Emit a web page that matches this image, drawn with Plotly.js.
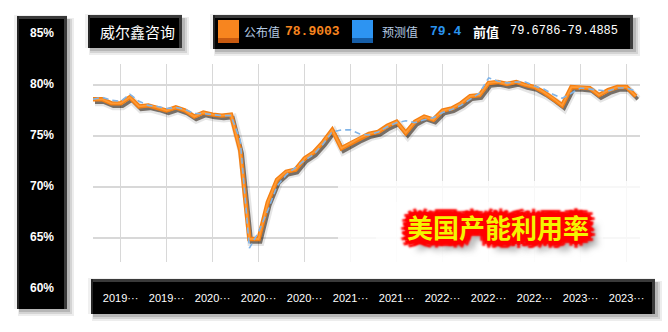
<!DOCTYPE html>
<html>
<head>
<meta charset="utf-8">
<script src="https://cdn.plot.ly/plotly-3.0.1.min.js"></script>
<style>
html,body{margin:0;padding:0;background:#ffffff;}
#chart{width:668px;height:332px;}
</style>
</head>
<body>
<div id="chart"></div>
<script>
// ---------------- data ----------------
// release months of the monthly US capacity utilisation readings
const releaseMonths = [
  "2018-12",
  "2019-01","2019-02","2019-03","2019-04","2019-05","2019-06","2019-07","2019-08","2019-09","2019-10","2019-11","2019-12",
  "2020-01","2020-02","2020-03","2020-04","2020-05","2020-06","2020-07","2020-08","2020-09","2020-10","2020-11","2020-12",
  "2021-01","2021-02","2021-03","2021-04","2021-05","2021-06","2021-07","2021-08","2021-09","2021-10","2021-11","2021-12",
  "2022-01","2022-02","2022-03","2022-04","2022-05","2022-06","2022-07","2022-08","2022-09","2022-10","2022-11","2022-12",
  "2023-01","2023-02","2023-03","2023-04","2023-05","2023-06","2023-07","2023-08","2023-09","2023-10","2023-11"
];
// 公布值 (actual)
const actualValues = [
  78.6, 78.6, 78.2, 78.2, 78.8, 77.9, 78.0, 77.8, 77.5, 77.8,
  77.5, 76.9, 77.3, 77.1, 77.0, 77.1, 73.6, 64.9, 64.9, 68.5,
  70.7, 71.5, 71.7, 72.8, 73.4, 74.4, 75.6, 73.8, 74.3, 74.8,
  75.2, 75.4, 76.0, 76.4, 75.3, 76.4, 76.9, 76.6, 77.5, 77.7,
  78.2, 78.9, 79.0, 80.2, 80.3, 80.1, 80.3, 80.0, 79.8, 79.3,
  78.7, 78.0, 79.8, 79.8, 79.7, 79.0, 79.5, 79.8, 79.8, 78.9
];
// 预测值 (forecast)
const forecastValues = [
  78.6, 78.8, 78.5, 78.4, 79.1, 78.4, 78.0, 77.9, 77.7, 77.8,
  77.6, 77.2, 77.2, 77.1, 77.0, 77.0, 74.6, 64.0, 65.6, 67.7,
  70.1, 71.2, 71.9, 72.6, 73.2, 74.2, 75.4, 75.6, 75.6, 75.2,
  75.1, 75.4, 75.9, 76.3, 76.5, 76.3, 76.6, 76.8, 77.3, 77.6,
  78.0, 78.6, 79.2, 80.7, 80.4, 80.2, 80.3, 80.3, 79.9, 79.6,
  79.1, 78.7, 79.2, 79.7, 79.6, 79.5, 79.4, 79.7, 79.7, 79.4
];
const tickIndices = [3, 8, 13, 18, 23, 28, 33, 38, 43, 48, 53, 58];
const yLabelValues = [85, 80, 75, 70, 65, 60];
const yGridValues = [65, 70, 75, 80];
const titleText = "威尔鑫咨询";
const chartLabel = "美国产能利用率";
const legendActualName = "公布值";
const legendActualValue = "78.9003";
const legendForecastName = "预测值";
const legendForecastValue = "79.4";
const previousName = "前值";
const previousValue = "79.6786-79.4885";

// ---------------- geometry (pixels) ----------------
const W = 668, H = 332;
const plotL = 93, plotR = 640.4, plotT = 64, plotB = 262;
const y85px = 33, y60px = 288;
const pxPerPct = 10.2;
const yTop = 80 + (85 - plotT) / pxPerPct;
const yBot = 80 - (plotB - 85) / pxPerPct;
const xRange = [0, 59.5];
const pxPerCat = (plotR - plotL) / (xRange[1] - xRange[0]);
const sdx = 2, sdy = 3; // shadow offset in px

const px = x => x / W;
const py = y => 1 - y / H;

const tickVals = tickIndices.map(i => releaseMonths[i]);
const tickText = tickVals.map(s => s.slice(0, 4) + "···");

// ---------------- traces ----------------
const traces = [
  { // host trace for main axes (invisible)
    x: releaseMonths, y: actualValues, type: 'scatter', mode: 'lines',
    line: {color: 'rgba(0,0,0,0)', width: 0}, hoverinfo: 'skip', showlegend: false,
    xaxis: 'x', yaxis: 'y'
  },
  { // soft wide shadow
    x: releaseMonths, y: actualValues, type: 'scatter', mode: 'lines',
    line: {color: 'rgba(0,0,0,0.10)', width: 8},
    hoverinfo: 'skip', showlegend: false, xaxis: 'x2', yaxis: 'y2'
  },
  { // core shadow
    x: releaseMonths, y: actualValues, type: 'scatter', mode: 'lines',
    line: {color: 'rgba(30,15,0,0.55)', width: 3.5},
    hoverinfo: 'skip', showlegend: false, xaxis: 'x2', yaxis: 'y2'
  },
  { // orange actual line
    x: releaseMonths, y: actualValues, type: 'scatter', mode: 'lines',
    line: {color: '#f47f12', width: 4.4},
    name: legendActualName, showlegend: false, xaxis: 'x3', yaxis: 'y3'
  },
  { // highlight
    x: releaseMonths, y: actualValues, type: 'scatter', mode: 'lines',
    line: {color: '#ff9a35', width: 1.8},
    hoverinfo: 'skip', showlegend: false, xaxis: 'x3', yaxis: 'y3'
  },
  { // forecast dashed
    x: releaseMonths, y: forecastValues, type: 'scatter', mode: 'lines',
    line: {color: '#80b4e8', width: 1.6, dash: '6px,4px'},
    name: legendForecastName, showlegend: false, xaxis: 'x3', yaxis: 'y3'
  }
];

// ---------------- shapes ----------------
const shapes = [];
function rect(x0, y0, x1, y1, fill, line, layer, lw) {
  shapes.push({type: 'rect', xref: 'paper', yref: 'paper',
    x0: px(x0), x1: px(x1), y0: py(y1), y1: py(y0),
    fillcolor: fill, line: {color: line || 'rgba(0,0,0,0)', width: lw || 0},
    layer: layer || 'below'});
}
function shadowBox(x0, y0, x1, y1) {
  rect(x0 + 1, y0 + 2, x1 + 7, y1 + 7, 'rgba(0,0,0,0.07)');
  rect(x0 + 2, y0 + 3, x1 + 5, y1 + 5, 'rgba(0,0,0,0.10)');
  rect(x0 + 2, y0 + 3, x1 + 3, y1 + 3, 'rgba(0,0,0,0.14)');
  rect(x0 - 3, y0 - 1, x1, y1, 'rgba(0,0,0,0.06)');
}
function blackBox(x0, y0, x1, y1) {
  shadowBox(x0, y0, x1, y1);
  rect(x0, y0, x1, y1, '#000000');
  rect(x0, y0, x1, y0 + 3, '#3a3a3a');
  rect(x1 - 3, y0, x1, y1, '#3a3a3a');
  rect(x0, y0, x0 + 2, y1, '#262626');
}
// left y-label panel
blackBox(17, 16, 67, 309);
// title box
blackBox(88, 15, 182, 48);
// legend box
blackBox(213, 15, 633, 49);
// x-label bar
blackBox(91, 279, 655, 314);
// legend squares
rect(218, 20, 239, 43, '#f7851f', null, 'above');
rect(218, 38, 239, 43, '#c85a10', null, 'above');
rect(352, 20, 373, 43, '#2d94f2', null, 'above');
rect(352, 38, 373, 43, '#165ea8', null, 'above');
// white wash over lower-right grid region
rect(338, 181, 642, 263, 'rgba(255,255,255,0.78)', null, 'above');
rect(376, 202, 603, 262, 'rgba(255,255,255,0.6)', null, 'above');

// ---------------- annotations ----------------
const annotations = [];
const baseFont = 'Liberation Sans, Arial, sans-serif';
const cjkFont = 'Noto Sans CJK SC, sans-serif';
const monoFont = 'Liberation Mono, DejaVu Sans Mono, monospace';
yLabelValues.forEach(v => {
  annotations.push({xref: 'paper', yref: 'paper', x: px(42), y: py(y85px + (85 - v) * (y60px - y85px) / 25),
    text: v + '%', showarrow: false, xanchor: 'center', yanchor: 'middle',
    font: {family: baseFont, size: 12, color: '#ffffff', weight: 'bold'}});
});
function label(x, y, text, font, xanchor) {
  annotations.push({xref: 'paper', yref: 'paper', x: px(x), y: py(y), text: text,
    showarrow: false, xanchor: xanchor || 'left', yanchor: 'middle', font: font});
}
label(137, 31.5, titleText, {family: cjkFont, size: 15, color: '#ffffff'}, 'center');
label(242, 31.5, legendActualName, {family: cjkFont, size: 12, color: '#b5cbe3'});
label(283, 31.5, legendActualValue, {family: monoFont, size: 13, color: '#f7851f', weight: 'bold'});
label(380, 31.5, legendForecastName, {family: cjkFont, size: 12, color: '#b5cbe3'});
label(428, 31.5, legendForecastValue, {family: monoFont, size: 13, color: '#2a93ee', weight: 'bold'});
label(471, 31.5, previousName, {family: cjkFont, size: 13, color: '#ffffff', weight: 'bold'});
label(508, 31.5, previousValue, {family: monoFont, size: 12, color: '#ffffff'});

const redGlow = [
  '0 0 1px #ff0000',
  '2px 0 1px #ff0000', '-2px 0 1px #ff0000', '0 2px 1px #ff0000', '0 -2px 1px #ff0000',
  '4px 0 1px #ff0000', '-4px 0 1px #ff0000', '0 4px 1px #ff0000', '0 -4px 1px #ff0000',
  '3px 3px 1px #ff0000', '-3px 3px 1px #ff0000', '3px -3px 1px #ff0000', '-3px -3px 1px #ff0000',
  '7px 0 2px #ff0000', '-7px 0 2px #ff0000', '0 7px 2px #ff0000', '0 -7px 2px #ff0000',
  '5px 5px 2px #ff0000', '-5px 5px 2px #ff0000', '5px -5px 2px #ff0000', '-5px -5px 2px #ff0000',
  '9px 9px 7px rgba(0,0,0,0.55)'
].join(', ');
label(498, 227, chartLabel, {family: cjkFont, size: 26, color: '#f4f400', weight: 'bold', shadow: redGlow}, 'center');

// ---------------- layout ----------------
const xCommon = {type: 'category', domain: [plotL / W, plotR / W], fixedrange: true, zeroline: false};
const layout = {
  width: W, height: H,
  margin: {l: 0, r: 0, t: 0, b: 0, pad: 0},
  paper_bgcolor: '#ffffff', plot_bgcolor: 'rgba(0,0,0,0)',
  showlegend: false,
  xaxis: Object.assign({}, xCommon, {
    range: xRange, tickmode: 'array', tickvals: tickVals, ticktext: tickText,
    showgrid: true, gridcolor: '#d8d8d8', gridwidth: 1.6,
    ticks: 'outside', ticklen: 26, tickcolor: 'rgba(0,0,0,0)', tickangle: 0,
    tickfont: {family: baseFont, size: 11, color: '#ffffff'},
    showline: false, automargin: false
  }),
  yaxis: {domain: [1 - plotB / H, 1 - plotT / H], range: [yBot, yTop],
    tickmode: 'array', tickvals: yGridValues, showticklabels: false,
    showgrid: true, gridcolor: '#d8d8d8', gridwidth: 1.6, zeroline: false,
    ticks: '', fixedrange: true, automargin: false},
  xaxis2: Object.assign({}, xCommon, {overlaying: 'x', visible: false,
    range: [xRange[0] - sdx / pxPerCat, xRange[1] - sdx / pxPerCat]}),
  yaxis2: {overlaying: 'y', visible: false, fixedrange: true,
    range: [yBot + sdy / pxPerPct, yTop + sdy / pxPerPct]},
  xaxis3: Object.assign({}, xCommon, {overlaying: 'x', visible: false, range: xRange}),
  yaxis3: {overlaying: 'y', visible: false, fixedrange: true, range: [yBot, yTop]},
  shapes: shapes,
  annotations: annotations
};

Plotly.newPlot('chart', traces, layout, {displayModeBar: false, staticPlot: true});
</script>
</body>
</html>
